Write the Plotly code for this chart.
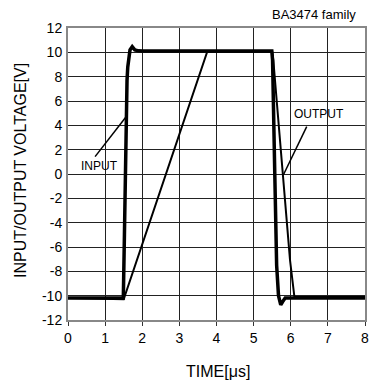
import plotly.graph_objects as go

# input pulse (fast edges, with overshoot)
input_t = [0, 1.49, 1.52, 1.54, 1.56, 1.59, 1.61, 1.67, 1.73, 1.8, 1.9, 2.0,
           5.49, 5.51, 5.57, 5.62, 5.67, 5.73, 5.78, 5.85, 8.0]
input_v = [-10.2, -10.2, -5.0, -1.3, 4.7, 7.7, 8.8, 10.2, 10.46, 10.2, 10.12, 10.1,
           10.1, 9.37, 0.0, -7.5, -10.0, -10.76, -10.5, -10.2, -10.2]

# output (slew limited)
output_t = [0, 1.5, 3.75, 5.5, 5.53, 5.98, 6.1, 6.15, 8.0]
output_v = [-10.2, -10.3, 10.05, 10.05, 9.37, -7.07, -10.13, -10.1, -10.1]

x_ticks = [0, 1, 2, 3, 4, 5, 6, 7, 8]
y_ticks = [-12, -10, -8, -6, -4, -2, 0, 2, 4, 6, 8, 10, 12]
y_labels = [str(v) for v in y_ticks]  # plain hyphen, not the unicode minus

fnt = "Arial, Liberation Sans, sans-serif"

# page body has an 8px margin, so the figure is drawn 8px in from the corner
OFF = 8
W, H = 378 - OFF, 381 - OFF
L, R, T, B = 68 - OFF, 13, 28 - OFF, 61
pw, ph = W - L - R, H - T - B


def px(x, y):
    # reference screenshot pixel -> paper coords
    return (x - OFF - L) / pw, (H - B - (y - OFF)) / ph


fig = go.Figure()
fig.add_trace(go.Scatter(x=output_t, y=output_v, mode="lines",
                         line=dict(color="black", width=2), name="OUTPUT"))
fig.add_trace(go.Scatter(x=input_t, y=input_v, mode="lines",
                         line=dict(color="black", width=3.5), name="INPUT"))

# labels with leader lines
fig.add_annotation(x=0.85, y=0.69, text="INPUT", showarrow=False,
                   font=dict(size=12, color="black", family=fnt))
fig.add_shape(type="line", x0=0.73, y0=1.43, x1=1.56, y1=4.69,
              line=dict(color="black", width=1.5))
fig.add_annotation(x=6.77, y=4.91, text="OUTPUT", showarrow=False,
                   font=dict(size=12, color="black", family=fnt))
fig.add_shape(type="line", x0=6.43, y0=3.89, x1=5.8, y1=-0.08,
              line=dict(color="black", width=1.5))

tx, ty = px(314, 15)
fig.add_annotation(x=tx, y=ty, xref="paper", yref="paper", text="BA3474 family",
                   xanchor="center", yanchor="middle",
                   showarrow=False, font=dict(size=13, color="black", family=fnt))

tx, ty = px(218, 371)
fig.add_annotation(x=tx, y=ty, xref="paper", yref="paper", text="TIME[μs]", showarrow=False,
                   xanchor="center", yanchor="middle",
                   font=dict(size=16, color="black", family=fnt))
tx, ty = px(20, 171)
fig.add_annotation(x=tx, y=ty, xref="paper", yref="paper", text="INPUT/OUTPUT VOLTAGE[V]",
                   xanchor="center", yanchor="middle",
                   textangle=-90, showarrow=False, font=dict(size=16, color="black", family=fnt))

fig.update_xaxes(range=[0, 8], tickvals=x_ticks, showgrid=True, gridcolor="#222", gridwidth=1,
                 zeroline=False, showline=True, linecolor="#888", linewidth=2, mirror=True,
                 ticks="outside", ticklen=4, tickcolor="#333", automargin=False,
                 tickfont=dict(size=14, family=fnt, color="black"))
fig.update_yaxes(range=[-12, 12], tickvals=y_ticks, ticktext=y_labels,
                 showgrid=True, gridcolor="#222", gridwidth=1,
                 zeroline=False, showline=True, linecolor="#888", linewidth=2, mirror=True,
                 ticks="outside", ticklen=1, tickcolor="rgba(0,0,0,0)", automargin=False,
                 tickfont=dict(size=14, family=fnt, color="black"))

fig.update_layout(width=W, height=H, margin=dict(l=L, r=R, t=T, b=B),
                  plot_bgcolor="white", paper_bgcolor="white", showlegend=False)

fig.write_html("out.html")
